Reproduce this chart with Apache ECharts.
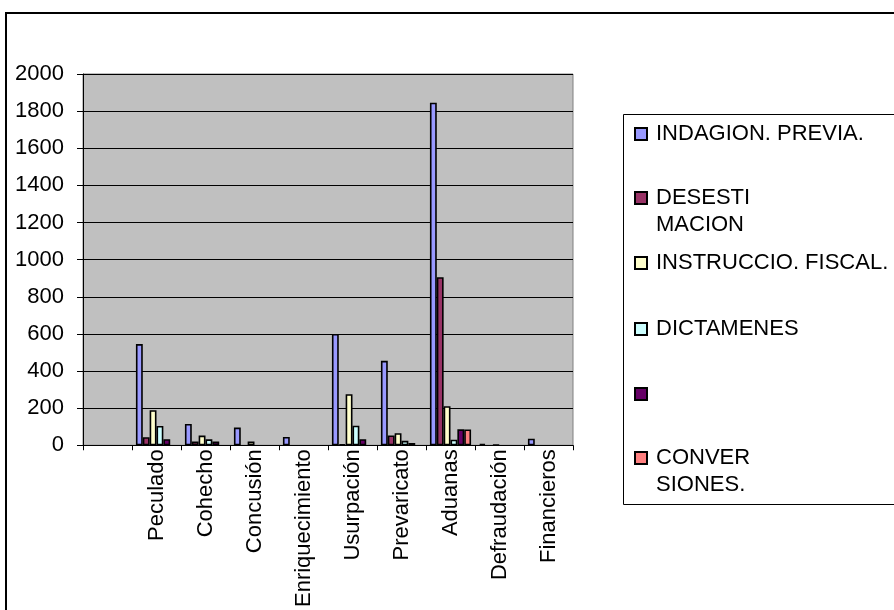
<!DOCTYPE html>
<html><head><meta charset="utf-8">
<script src="https://cdn.jsdelivr.net/npm/echarts@6/dist/echarts.min.js"></script>
<style>html,body{margin:0;padding:0;background:#fff}#c{width:894px;height:610px}</style>
</head><body><div id="c"></div>
<script>
const categories = ['', 'Peculado', 'Cohecho', 'Concusión', 'Enriquecimiento', 'Usurpación', 'Prevaricato', 'Aduanas', 'Defraudación', 'Financieros'];
const seriesNames = ['INDAGION. PREVIA.', 'DESESTI\nMACION', 'INSTRUCCIO. FISCAL.', 'DICTAMENES', '\u00a0', 'CONVER\nSIONES.'];
const indagacion   = [null, 545, 115, 95, 45, 600, 455, 1845, 8, 35];
const desestimacion = [null, 43, 20, null, null, 5, 53, 905, null, null];
const instruccion  = [null, 189, 52, 20, null, 275, 65, 210, 3, null];
const dictamenes   = [null, 104, 32, null, null, 105, 24, 30, null, null];
const sinNombre    = [null, 33, 20, null, null, 33, 12, 86, null, null];
const conversiones = [null, null, null, null, null, null, null, 85, null, null];
const yTicks = [0, 200, 400, 600, 800, 1000, 1200, 1400, 1600, 1800, 2000];

const colors = ['#9999FF', '#993366', '#FFFFCC', '#CCFFFF', '#660066', '#FF8080'];
const values = [indagacion, desestimacion, instruccion, dictamenes, sinNombre, conversiones];
const FONT = "'Liberation Sans', Arial, sans-serif";
const L = 27;
const iconY = [134, 198, 263, 329, 394, 458];

const chart = echarts.init(document.getElementById('c'), null, {renderer: 'canvas'});
chart.setOption({
  animation: false,
  backgroundColor: '#fff',
  textStyle: {fontFamily: FONT},
  grid: {left: 83, top: 74, width: 490, height: 373, show: true,
         backgroundColor: '#C0C0C0', borderColor: '#808080', borderWidth: 1},
  xAxis: {
    type: 'category', data: categories,
    axisLine: {lineStyle: {color: '#000', width: 1}},
    axisTick: {show: true, interval: 0, length: 5, lineStyle: {color: '#000'}},
    axisLabel: {interval: 0, rotate: 90, fontSize: 22, color: '#000', margin: 4, fontFamily: FONT},
    splitLine: {show: false}
  },
  yAxis: {
    type: 'value', min: yTicks[0], max: yTicks[yTicks.length - 1], interval: yTicks[1] - yTicks[0],
    axisLine: {show: true, lineStyle: {color: '#000', width: 1}},
    axisTick: {show: true, length: 6, lineStyle: {color: '#000'}},
    axisLabel: {fontSize: 22, color: '#000', margin: 19, fontFamily: FONT, formatter: v => String(v)},
    splitLine: {show: true, lineStyle: {color: '#000', width: 1}}
  },
  legend: seriesNames.map((n, i) => {
    const two = n.indexOf('\n') >= 0;
    return {
      data: [n],
      formatter: name => (two ? '\n' : '') + name.split('\n').map(s => '{a|' + s + '}').join('\n'),
      orient: 'vertical', left: 634, top: iconY[i] - (two ? 1.5 * L : L / 2),
      itemWidth: 12, itemHeight: 12, itemGap: 0, padding: 0, icon: 'rect',
      selectedMode: false,
      textStyle: {fontSize: 22, lineHeight: L, color: '#000', fontFamily: FONT,
                  rich: {a: {fontSize: 22, lineHeight: L, color: '#000', fontFamily: FONT, padding: [0, 0, 0, 4]}}}
    };
  }),
  graphic: [
    {type: 'rect', silent: true, z: -1, shape: {x: 6, y: 13, width: 900, height: 610},
     style: {fill: 'none', stroke: '#000', lineWidth: 2}},
    {type: 'rect', silent: true, z: -1, shape: {x: 623.5, y: 114.5, width: 300, height: 390},
     style: {fill: '#fff', stroke: '#000', lineWidth: 1}}
  ],
  series: seriesNames.map((n, i) => ({
    type: 'bar', name: n, data: values[i],
    barGap: '0%', barCategoryGap: '16%',
    itemStyle: {color: colors[i], borderColor: '#000', borderWidth: 1.6}
  }))
});
</script></body></html>
